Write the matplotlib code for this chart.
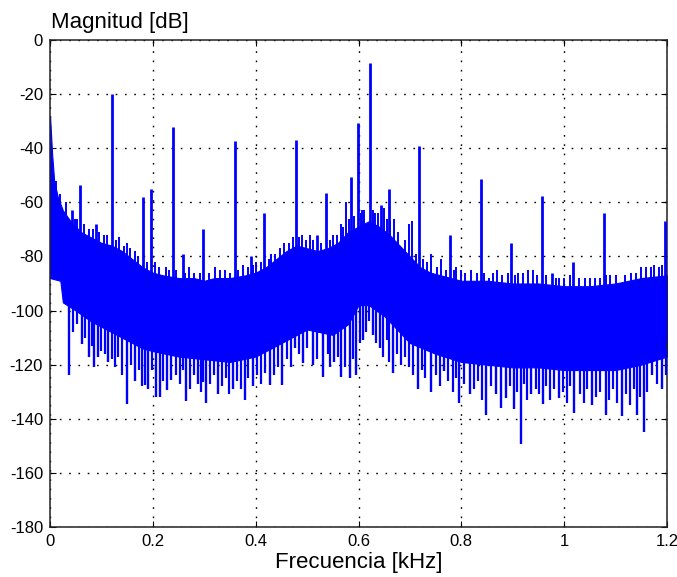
import matplotlib
matplotlib.use('Agg')
import matplotlib.pyplot as plt
import numpy as np

plt.rcParams['font.family'] = ['Liberation Sans', 'DejaVu Sans']
plt.rcParams['axes.unicode_minus'] = False

# ── Noise floor: top and bottom of the dense band (kHz, dB) ─────────
f_top = [0.000, 0.004, 0.008, 0.015, 0.025, 0.04, 0.06, 0.08, 0.10, 0.12,
         0.14, 0.16, 0.18, 0.20, 0.22, 0.25, 0.28, 0.30, 0.32, 0.35,
         0.38, 0.40, 0.42, 0.44, 0.46, 0.48, 0.50, 0.52, 0.54, 0.56,
         0.58, 0.60, 0.62, 0.64, 0.66, 0.68, 0.70, 0.72, 0.74, 0.76,
         0.78, 0.80, 0.85, 0.90, 0.95, 1.00, 1.05, 1.10, 1.15, 1.20]
db_top = [-28, -42, -52, -58, -63, -67, -71, -73, -75, -76,
          -78, -81, -84, -86, -87, -88, -88, -89, -88, -88,
          -87, -86, -84, -81, -78, -76, -77, -78, -77, -75,
          -71, -69, -67, -69, -72, -76, -80, -84, -86, -87,
          -88, -89, -89, -90, -90, -91, -91, -90, -88, -87]

f_bot = [0.000, 0.020, 0.025, 0.05, 0.08, 0.10, 0.12, 0.15, 0.18, 0.20,
         0.25, 0.30, 0.35, 0.40, 0.45, 0.50, 0.55, 0.58, 0.60, 0.62,
         0.65, 0.70, 0.75, 0.80, 0.85, 0.90, 0.95, 1.00, 1.05, 1.10,
         1.15, 1.20]
db_bot = [-88, -89, -97, -100, -104, -106, -108, -111, -114, -115,
          -117, -118, -119, -117, -112, -107, -109, -105, -98, -98,
          -102, -112, -116, -119, -120, -121, -121, -122, -122, -122,
          -120, -117]

# ── Downward noise spikes (kHz, minimum dB) ─────────────────────────
f_dips = [0.0375, 0.0615, 0.076, 0.086, 0.094, 0.113, 0.149, 0.165, 0.184,
          0.191, 0.207, 0.214, 0.227, 0.236, 0.265, 0.288, 0.298, 0.304,
          0.327, 0.356, 0.379, 0.395, 0.427, 0.452, 0.476, 0.492, 0.511,
          0.531, 0.553, 0.566, 0.583, 0.596, 0.608, 0.628, 0.641, 0.667,
          0.715, 0.741, 0.767, 0.796, 0.816, 0.848, 0.867, 0.877, 0.887,
          0.903, 0.916, 0.935, 0.958, 0.990, 1.019, 1.055, 1.081, 1.113,
          1.142, 1.155, 1.171, 1.191]
db_dips = [-124, -112.5, -117, -121, -117, -119, -134.5, -126, -127.5,
           -129, -132, -132, -129.5, -125.5, -133.5, -127, -126.5, -134,
           -131, -129, -133, -128, -127.5, -127.5, -114, -119.5, -120,
           -124.5, -119, -124.5, -125, -124, -111, -109, -114, -123,
           -129, -130, -122.5, -134, -131, -138.5, -131, -136, -132.5,
           -136.5, -149.5, -131, -134.5, -132.5, -138, -135, -138.5, -139,
           -138.5, -145, -124, -129]

# shorter downward spikes filling the ragged lower edge
f_dips2 = [0.030, 0.045, 0.052, 0.068, 0.081, 0.100, 0.106, 0.120, 0.127,
           0.133, 0.140, 0.157, 0.173, 0.178, 0.198, 0.220, 0.245, 0.252,
           0.258, 0.272, 0.280, 0.293, 0.312, 0.319, 0.335, 0.342, 0.349,
           0.364, 0.371, 0.386, 0.403, 0.411, 0.419, 0.435, 0.443, 0.460,
           0.468, 0.484, 0.500, 0.520, 0.540, 0.545, 0.560, 0.574, 0.590,
           0.602, 0.615, 0.621, 0.634, 0.648, 0.655, 0.660, 0.675, 0.683,
           0.690, 0.698, 0.706, 0.723, 0.730, 0.750, 0.758, 0.775, 0.783,
           0.790, 0.805, 0.825, 0.832, 0.840, 0.857, 0.895, 0.908, 0.922,
           0.928, 0.945, 0.951, 0.965, 0.972, 0.980, 0.998, 1.005, 1.012,
           1.030, 1.038, 1.045, 1.062, 1.070, 1.088, 1.095, 1.103, 1.120,
           1.128, 1.135, 1.148, 1.162, 1.180, 1.198]
db_dips2 = [-96, -108, -105, -110, -113, -115, -116, -118, -121,
            -117, -124, -120, -122, -128, -122, -126, -124, -127,
            -122, -129, -124, -130, -127, -124, -128, -125, -131,
            -126, -129, -125, -124, -127, -123, -124, -121, -118,
            -121, -116, -114, -118, -116, -121, -117, -121, -118,
            -112, -108, -104, -112, -117, -111, -119, -116, -120,
            -117, -121, -124, -122, -125, -124, -128, -126, -130,
            -125, -127, -129, -126, -133, -128, -128, -130, -127,
            -133, -129, -131, -128, -133, -129, -130, -134, -128,
            -131, -134, -129, -132, -130, -133, -129, -134, -131,
            -135, -129, -132, -130, -127, -124]

# ── Small upward noise spikes (kHz, dB) ─────────────────────────────
f_hairs = [0.048, 0.075, 0.105, 0.135, 0.150, 0.165, 0.205, 0.225, 0.270,
           0.320, 0.340, 0.375, 0.400, 0.430, 0.455, 0.490, 0.505, 0.550,
           0.565, 0.575, 0.607, 0.615, 0.632, 0.650, 0.670, 0.699, 0.705,
           0.741, 0.760, 0.790, 0.800, 0.819, 0.854, 0.870, 0.910, 0.930,
           0.940, 0.990, 1.040, 1.060, 1.090, 1.130, 1.160, 1.175, 1.185]
db_hairs = [-66, -70, -72, -73, -75, -78, -82, -84, -84,
            -84, -85, -83, -82, -79, -75, -72, -72, -72,
            -68, -60, -63, -69, -64, -62, -66, -68, -67,
            -79, -81, -84, -85, -85, -88, -85, -86, -85,
            -85, -88, -88, -88, -87, -86, -84, -83, -84]

# fuzz on the top edge of the band
f_fuzz = [0.012, 0.020, 0.032, 0.052, 0.066, 0.083, 0.095, 0.110, 0.128,
          0.143, 0.155, 0.172, 0.188, 0.212, 0.232, 0.245, 0.262, 0.280,
          0.292, 0.310, 0.330, 0.350, 0.365, 0.385, 0.395, 0.410, 0.425,
          0.438, 0.448, 0.465, 0.472, 0.485, 0.498, 0.512, 0.528, 0.545,
          0.558, 0.570, 0.582, 0.592, 0.604, 0.611, 0.628, 0.638, 0.655,
          0.662, 0.676, 0.690, 0.712, 0.725, 0.733, 0.752, 0.770, 0.785,
          0.808, 0.830, 0.845, 0.862, 0.880, 0.890, 0.905, 0.920, 0.948,
          0.965, 0.985, 1.000, 1.012, 1.028, 1.050, 1.070, 1.082, 1.100,
          1.118, 1.140, 1.150, 1.168, 1.190]
db_fuzz = [-52, -57, -60, -66, -68, -70, -71, -72, -74,
           -76, -77, -80, -82, -84, -85, -85, -86, -86,
           -86, -86, -85, -86, -85, -84, -83, -82, -81,
           -79, -77, -75, -73, -73, -74, -74, -75, -74,
           -72, -69, -66, -65, -64, -63, -63, -64, -66,
           -67, -71, -74, -79, -81, -82, -84, -85, -85,
           -86, -86, -86, -86, -87, -86, -87, -86, -87,
           -87, -88, -88, -87, -88, -88, -88, -87, -87,
           -87, -86, -84, -84, -83]

# ── Tones (kHz, peak dB) ────────────────────────────────────────────
f_tones = [0.042, 0.058, 0.089, 0.120, 0.180, 0.196, 0.239, 0.258, 0.298,
           0.359, 0.390, 0.417, 0.478, 0.520, 0.537, 0.586, 0.599, 0.623,
           0.643, 0.659, 0.718, 0.778, 0.838, 0.896, 0.957, 0.977, 1.018,
           1.078, 1.197]
db_tones = [-63, -53.5, -68, -20, -58, -55, -32, -79, -70,
            -37.5, -80, -64, -37, -72, -56.5, -50.5, -30.5, -8.5,
            -61, -55, -39, -72, -51.5, -75, -57.5, -86, -82,
            -64, -67]

blue = '#0000ff'

fig = plt.figure(figsize=(6.77, 5.77), dpi=100)
ax = fig.add_axes([0.0739, 0.0867, 0.9113, 0.844])

# dense band
f_grid = np.union1d(f_top, f_bot)
ax.fill_between(f_grid, np.interp(f_grid, f_bot, db_bot),
                np.interp(f_grid, f_top, db_top),
                color=blue, lw=0.8, zorder=2)

ax.vlines(f_dips, np.interp(f_dips, f_bot, db_bot) + 3, db_dips,
          color=blue, lw=1.7, zorder=3)
ax.vlines(f_dips2, np.interp(f_dips2, f_bot, db_bot) + 3, db_dips2,
          color=blue, lw=1.6, zorder=3)
ax.vlines(f_hairs, np.interp(f_hairs, f_top, db_top) - 3, db_hairs,
          color=blue, lw=1.4, zorder=3)
ax.vlines(f_fuzz, np.interp(f_fuzz, f_top, db_top) - 3, db_fuzz,
          color=blue, lw=1.4, zorder=3)
ax.vlines(f_tones, np.interp(f_tones, f_bot, db_bot) + 5, db_tones,
          color=blue, lw=2.0, zorder=4)

ax.set_xlim(0, 1.2)
ax.set_ylim(-180, 0)
ax.set_xticks([0, 0.2, 0.4, 0.6, 0.8, 1.0, 1.2])
ax.set_xticklabels(['0', '0.2', '0.4', '0.6', '0.8', '1', '1.2'])
ax.set_yticks(np.arange(-180, 1, 20))

ax.grid(True, color='black', linestyle=(0, (1.2, 5.5)), linewidth=1.0)
ax.set_axisbelow(True)
ax.tick_params(direction='in', length=4, width=0.8, top=True, right=True,
               labelsize=12, pad=5)
for s in ax.spines.values():
    s.set_linewidth(1.1)
    s.set_color('#222222')

ax.set_xlabel('Frecuencia [kHz]', fontsize=16, labelpad=2)
fig.text(51 / 677, 0.9515, 'Magnitud [dB]', fontsize=16,
         ha='left', va='baseline')

plt.savefig('out.png', dpi=100)
